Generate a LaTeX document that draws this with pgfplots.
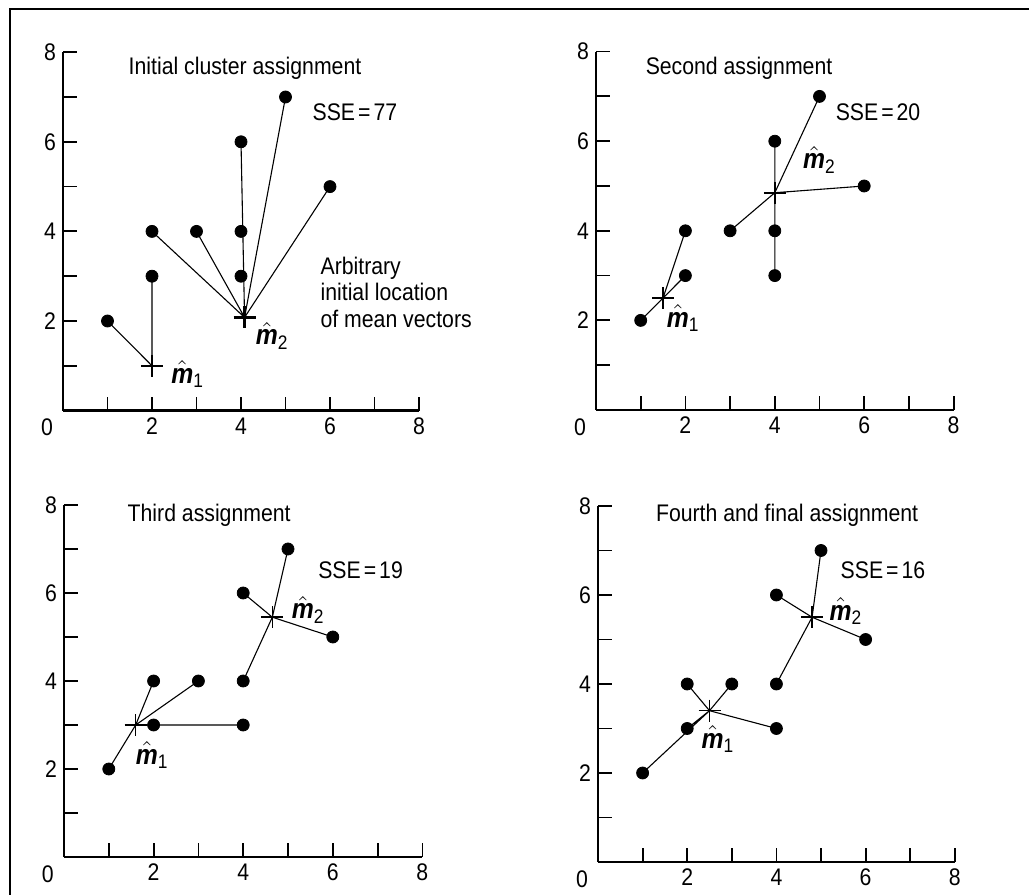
\documentclass[border=0pt]{standalone}
\usepackage{amsmath}
\usepackage{fontspec}
\setmainfont{Liberation Sans}[FakeStretch=0.885]
\usepackage{pgfplots}
\pgfplotsset{compat=1.18}
\pgfplotsset{
  kbase/.style={
    anchor=south west,
    scale only axis,
    xmin=0, xmax=8, ymin=0, ymax=8,
    axis lines=left,
    axis line style={-, line width=1.2pt, black},
    xtick={1,...,8}, ytick={1,...,8},
    xticklabels={{},2,{},4,{},6,{},8},
    yticklabels={{},2,{},4,{},6,{},8},
    tick align=inside,
    major tick length=7pt,
    tick style={line width=0.9pt, black},
    ticklabel style={font=\fontsize{12}{14}\selectfont},
    clip=false,
  },
  spoke/.style={black, line width=0.55pt, no marks, line join=round},
  dots/.style={only marks, mark=*, mark size=3pt, black},
  cents/.style={only marks, mark=+, mark size=5.5pt, black, mark options={line width=0.8pt}},
}
\tikzset{txt/.style={inner sep=0pt, font=\fontsize{12}{14}\selectfont},
         mlab/.style={inner sep=0pt, font=\fontsize{14}{16}\selectfont},
         sse/.style={inner sep=0pt, font=\fontsize{12}{14}\selectfont}}
\newcommand{\mhat}[1]{$\hat{\text{\bfseries\itshape m}}_{\text{#1}}$}
\begin{document}
\begin{tikzpicture}
\useasboundingbox (0,0) rectangle (514.5pt,447.5pt);
\draw[line width=1pt] (4.75pt,0pt) -- (4.75pt,443pt) -- (514.5pt,443pt);

% Panel 1
\begin{axis}[kbase, at={(31.5pt,242.2pt)}, x=22.25pt, y=22.4pt]
\addplot[spoke] coordinates {(1,2) (2,1) (2,3)};
\addplot[spoke] coordinates {(2,4) (4.08,2.08) (3,4) (4.08,2.08) (4,6) (4.08,2.08) (5,7) (4.08,2.08) (6,5)};
\addplot[dots] coordinates {(1,2) (2,3) (2,4) (3,4) (4,3) (4,4) (4,6) (5,7) (6,5)};
\addplot[cents, mark options={line width=1.1pt}] coordinates {(2,1) (4.08,2.08)};
\node[txt, anchor=north] at (axis cs:-0.36,0) [yshift=-4pt] {0};
\node[txt] at (axis cs:4.09,7.64) {Initial cluster assignment};
\node[sse] at (axis cs:6.56,6.67) {SSE\kern1.5pt=\kern1.5pt77};
\node[txt, anchor=west, align=left, font=\fontsize{12}{13.4}\selectfont] at (axis cs:5.78,2.64) {Arbitrary\\initial location\\of mean vectors};
\node[mlab] at (axis cs:2.8,0.82) {\mhat{1}};
\node[mlab] at (axis cs:4.7,1.67) {\mhat{2}};
\end{axis}

% Panel 2
\begin{axis}[kbase, at={(298pt,242.5pt)}, x=22.35pt, y=22.4pt]
\addplot[spoke] coordinates {(1,2) (1.5,2.5) (2,3) (1.5,2.5) (2,4)};
\addplot[spoke] coordinates {(3,4) (4,4.85) (4,3) (4,4.85) (4,6) (4,4.85) (5,7) (4,4.85) (6,5)};
\addplot[dots] coordinates {(1,2) (2,3) (2,4) (3,4) (4,3) (4,4) (4,6) (5,7) (6,5)};
\addplot[cents] coordinates {(1.5,2.5) (4,4.85)};
\node[txt, anchor=north] at (axis cs:-0.36,0) [yshift=-4pt] {0};
\node[txt] at (axis cs:3.2,7.63) {Second assignment};
\node[sse] at (axis cs:6.31,6.64) {SSE\kern1.5pt=\kern1.5pt20};
\node[mlab] at (axis cs:1.95,2.05) {\mhat{1}};
\node[mlab] at (axis cs:5.0,5.59) {\mhat{2}};
\end{axis}

% Panel 3
\begin{axis}[kbase, at={(32pt,19pt)}, x=22.4pt, y=22pt]
\addplot[spoke] coordinates {(1,2) (1.6,3.0) (2,4) (1.6,3.0) (3,4) (1.6,3.0) (4,3)};
\addplot[spoke] coordinates {(4,4) (4.65,5.45) (4,6) (4.65,5.45) (5,7) (4.65,5.45) (6,5)};
\addplot[dots] coordinates {(1,2) (2,3) (2,4) (3,4) (4,3) (4,4) (4,6) (5,7) (6,5)};
\addplot[cents] coordinates {(1.6,3.0) (4.65,5.45)};
\node[txt, anchor=north] at (axis cs:-0.36,0) [yshift=-4pt] {0};
\node[txt] at (axis cs:3.24,7.77) {Third assignment};
\node[sse] at (axis cs:6.62,6.52) {SSE\kern1.5pt=\kern1.5pt19};
\node[mlab] at (axis cs:1.97,2.32) {\mhat{1}};
\node[mlab] at (axis cs:5.45,5.62) {\mhat{2}};
\end{axis}

% Panel 4
\begin{axis}[kbase, at={(299pt,16.5pt)}, x=22.3pt, y=22.25pt]
\addplot[spoke] coordinates {(1,2) (2.5,3.4) (2,3) (2.5,3.4) (2,4) (2.5,3.4) (3,4) (2.5,3.4) (4,3)};
\addplot[spoke] coordinates {(4,4) (4.8,5.5) (4,6) (4.8,5.5) (5,7) (4.8,5.5) (6,5)};
\addplot[dots] coordinates {(1,2) (2,3) (2,4) (3,4) (4,3) (4,4) (4,6) (5,7) (6,5)};
\addplot[cents] coordinates {(2.5,3.4) (4.8,5.5)};
\node[txt, anchor=north] at (axis cs:-0.36,0) [yshift=-4pt] {0};
\node[txt] at (axis cs:4.24,7.79) {Fourth and final assignment};
\node[sse] at (axis cs:6.39,6.55) {SSE\kern1.5pt=\kern1.5pt16};
\node[mlab] at (axis cs:2.69,2.76) {\mhat{1}};
\node[mlab] at (axis cs:5.56,5.64) {\mhat{2}};
\end{axis}
\end{tikzpicture}
\end{document}
